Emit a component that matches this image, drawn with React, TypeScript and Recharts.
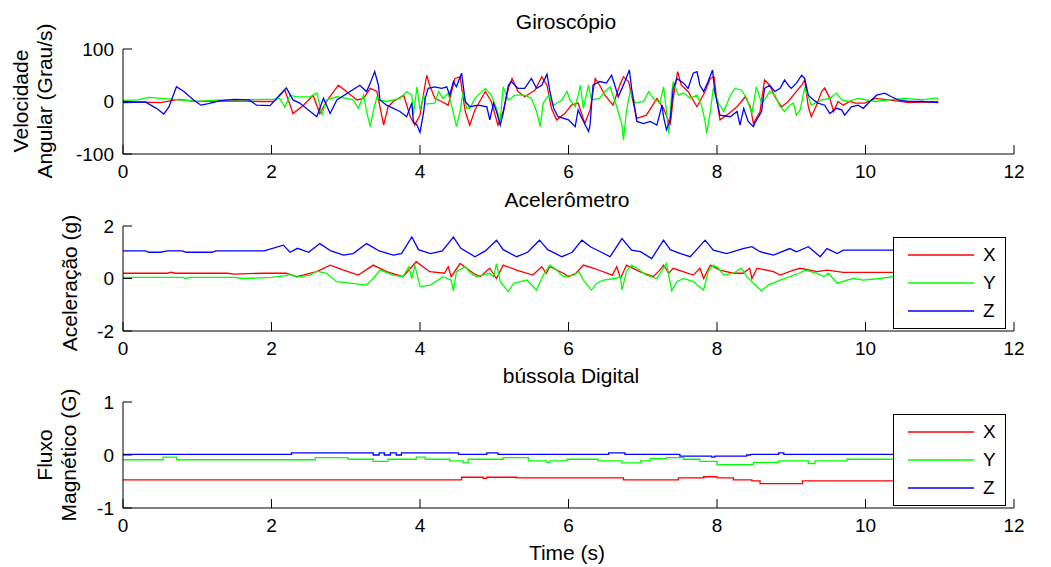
import React from "react"
import { LineChart, Line, XAxis, YAxis, Legend } from "recharts"

const FONT = "'Liberation Sans', Arial, sans-serif"

const timeTicks = [0, 2, 4, 6, 8, 10, 12]
const gyroTicks = [-100, 0, 100]
const accelTicks = [-2, 0, 2]
const magTicks = [-1, 0, 1]

// [tempo (s), valor]
const gyroX = [
  [0, 0], [0.5, -2], [0.75, 4], [1.0, 0], [1.5, 1], [1.85, 0], [2.03, 0], [2.18, 22], [2.29, -23], [2.43, -7],
  [2.56, 12], [2.65, -23], [2.74, 0], [2.9, 31], [3.01, 19], [3.15, 3], [3.24, 6], [3.33, 25], [3.42, 19], [3.51, -45],
  [3.57, -10], [3.64, 0], [3.78, 12], [3.87, -29], [3.93, -45], [4.0, -26], [4.09, 50], [4.13, 31], [4.2, 6], [4.29, 0],
  [4.38, -7], [4.47, 44], [4.54, 47], [4.61, -19], [4.67, -45], [4.74, -16], [4.88, 19], [4.96, 0], [5.05, -45], [5.12, -19],
  [5.19, 25], [5.24, 44], [5.32, 19], [5.41, 9], [5.55, 22], [5.64, 47], [5.71, 31], [5.77, -13], [5.84, -35], [5.95, -23],
  [6.04, -7], [6.13, -3], [6.22, -42], [6.29, -16], [6.36, 44], [6.42, 31], [6.49, 12], [6.6, -7], [6.69, 31], [6.74, 47],
  [6.81, 38], [6.85, 12], [6.92, -32], [7.05, -26], [7.19, 6], [7.28, -13], [7.37, -45], [7.41, 6], [7.47, 57], [7.52, 31],
  [7.61, 19], [7.73, -10], [7.84, 19], [7.91, 44], [7.96, 47], [8.0, 0], [8.04, -35], [8.13, -26], [8.27, -10], [8.38, 9],
  [8.45, -10], [8.49, -42], [8.58, -19], [8.64, 41], [8.71, 31], [8.78, 9], [8.87, -10], [8.96, 0], [9.05, 16], [9.14, 31],
  [9.18, 41], [9.23, -10], [9.27, -29], [9.34, -7], [9.41, 19], [9.45, 26], [9.52, 6], [9.57, -19], [9.63, 0], [9.7, -7],
  [9.79, 0], [9.86, -3], [9.99, -3], [10.13, 6], [10.31, 3], [10.58, -2], [10.98, 0],
]
const gyroY = [
  [0, 2], [0.2, 3], [0.35, 8], [0.6, 5], [1.0, 0], [1.3, 3], [1.6, 3], [1.85, 4], [2.03, 4], [2.11, 6],
  [2.18, -10], [2.25, 12], [2.34, 9], [2.52, 9], [2.61, 16], [2.65, -7], [2.68, -26], [2.74, 3], [2.88, 9], [3.01, 6],
  [3.1, 3], [3.17, -13], [3.24, 12], [3.28, -19], [3.33, -48], [3.37, -19], [3.42, 9], [3.46, 3], [3.55, 0], [3.73, 6],
  [3.82, 19], [3.89, 12], [3.91, -26], [3.96, 28], [4.0, -16], [4.05, 12], [4.07, -5], [4.2, -3], [4.25, 19], [4.31, 6],
  [4.38, 16], [4.43, -10], [4.49, -48], [4.54, -19], [4.58, 19], [4.63, -13], [4.67, -13], [4.74, 6], [4.88, 25], [4.96, 12],
  [5.03, -13], [5.08, -38], [5.12, 28], [5.19, 3], [5.28, 12], [5.41, 12], [5.5, 6], [5.57, -19], [5.62, -48], [5.66, -3],
  [5.73, 12], [5.8, -7], [5.91, 3], [5.98, 19], [6.02, 3], [6.09, -10], [6.13, 12], [6.16, 31], [6.2, -13], [6.27, 31],
  [6.31, 3], [6.42, 6], [6.49, 19], [6.56, 28], [6.65, -10], [6.72, -45], [6.74, -73], [6.78, -19], [6.83, 19], [6.9, -3],
  [7.01, 0], [7.08, 19], [7.14, 6], [7.23, -3], [7.28, 28], [7.32, -19], [7.35, -61], [7.39, 16], [7.41, 38], [7.48, 12],
  [7.55, 16], [7.64, 6], [7.73, 12], [7.79, -7], [7.84, -38], [7.86, -61], [7.91, -19], [7.95, 25], [8.02, -3], [8.09, -19],
  [8.18, 12], [8.24, 25], [8.33, 22], [8.4, 6], [8.47, -23], [8.53, 28], [8.6, -3], [8.64, 3], [8.71, 19], [8.78, 12],
  [8.85, -10], [8.91, -19], [8.98, -7], [9.03, -3], [9.07, -26], [9.12, -16], [9.18, 25], [9.23, 9], [9.27, -7], [9.41, 3],
  [9.52, 6], [9.61, 16], [9.68, 3], [9.77, 0], [9.9, 6], [10.13, 0], [10.31, 3], [10.53, 6], [10.76, 3], [10.96, 7], [10.98, 3],
]
const gyroZ = [
  [0, -2], [0.3, -1], [0.45, -13], [0.55, -24], [0.62, -10], [0.72, 28], [0.82, 19], [0.95, 3], [1.05, -7], [1.15, -4],
  [1.3, 1], [1.5, 4], [1.7, 3], [1.8, -7], [1.98, -8], [2.2, 26], [2.29, 3], [2.38, -3], [2.61, -29], [2.7, 6],
  [2.79, -23], [2.88, 3], [3.19, 31], [3.28, 19], [3.33, 35], [3.39, 57], [3.44, 31], [3.46, 3], [3.55, -7], [3.73, -19],
  [3.82, -29], [3.89, -3], [3.91, -38], [3.96, -45], [4.0, -59], [4.05, -19], [4.07, 6], [4.11, 25], [4.2, 28], [4.29, 25],
  [4.36, 28], [4.4, 12], [4.45, 38], [4.49, 28], [4.56, 54], [4.61, 0], [4.67, -10], [4.79, -7], [4.9, -10], [4.94, -35],
  [4.99, -3], [5.03, -19], [5.08, -45], [5.12, -23], [5.19, 31], [5.23, 38], [5.32, 25], [5.41, 25], [5.5, 44], [5.57, 25],
  [5.64, 31], [5.71, 52], [5.75, 19], [5.8, -13], [5.86, -29], [6.0, -35], [6.09, -48], [6.13, -16], [6.18, -32], [6.27, -57],
  [6.29, -45], [6.33, 31], [6.42, 38], [6.51, 35], [6.58, 50], [6.63, 28], [6.67, 9], [6.72, 25], [6.76, 38], [6.82, 60],
  [6.85, 25], [6.92, -38], [7.01, -42], [7.1, -38], [7.19, -45], [7.26, -7], [7.28, -29], [7.32, -54], [7.37, -35], [7.41, 25],
  [7.46, 44], [7.55, 35], [7.61, 25], [7.68, 54], [7.73, 57], [7.77, 31], [7.82, 19], [7.88, 38], [7.94, 60], [7.97, 19],
  [8.04, -26], [8.18, -29], [8.27, -19], [8.31, -45], [8.36, -13], [8.42, -38], [8.49, -48], [8.51, -41], [8.6, -19], [8.64, 25],
  [8.71, 31], [8.78, 19], [8.85, 25], [8.91, 41], [8.96, 31], [9.0, 25], [9.07, 35], [9.14, 50], [9.18, 44], [9.23, 12],
  [9.3, 3], [9.36, -3], [9.45, -7], [9.52, -23], [9.61, -13], [9.68, -16], [9.72, -26], [9.81, -10], [9.9, -7], [9.97, -13],
  [10.06, 0], [10.15, 12], [10.26, 16], [10.35, 9], [10.44, 3], [10.58, 0], [10.76, 0], [10.98, -2],
]

const accelX = [
  [0, 0.2], [0.6, 0.2], [0.65, 0.24], [0.7, 0.2], [1.4, 0.2], [1.5, 0.17], [1.9, 0.2], [2.2, 0.2], [2.34, 0.07], [2.61, 0.26],
  [2.79, 0.51], [2.97, 0.32], [3.17, 0.13], [3.37, 0.51], [3.55, 0.26], [3.77, 0.07], [3.95, 0.64], [4.13, 0.26], [4.33, 0.2], [4.38, 0.45],
  [4.42, 0.07], [4.54, 0.57], [4.72, 0.2], [4.81, 0.07], [4.94, 0.39], [5.03, 0.0], [5.12, 0.51], [5.3, 0.32], [5.52, 0.13], [5.64, 0.45],
  [5.7, 0.2], [5.75, 0.45], [5.93, 0.2], [6.0, 0.07], [6.1, 0.2], [6.2, 0.51], [6.34, 0.39], [6.59, 0.13], [6.65, 0.45], [6.7, 0.0],
  [6.78, 0.51], [6.96, 0.26], [7.14, 0.07], [7.23, 0.32], [7.28, 0.51], [7.35, 0.2], [7.41, 0.39], [7.68, 0.13], [7.77, 0.39], [7.82, 0.0],
  [7.91, 0.51], [8.04, 0.32], [8.22, 0.2], [8.35, 0.2], [8.44, 0.39], [8.47, 0.0], [8.54, 0.39], [8.76, 0.26], [8.85, 0.13], [9.03, 0.32],
  [9.12, 0.39], [9.35, 0.26], [9.48, 0.32], [9.7, 0.23], [11, 0.23],
]
const accelY = [
  [0, 0.04], [0.8, 0.04], [0.85, 0.0], [0.9, 0.04], [1.5, 0.04], [1.6, 0.0], [2.0, 0.04], [2.16, 0.1], [2.25, 0.15], [2.34, 0.05],
  [2.52, 0.13], [2.61, 0.28], [2.74, 0.2], [2.88, -0.12], [3.06, -0.18], [3.28, -0.25], [3.37, 0.0], [3.46, 0.32], [3.64, 0.13], [3.77, 0.07],
  [3.85, 0.45], [3.89, 0.0], [3.93, 0.51], [4.0, -0.31], [4.14, -0.25], [4.31, 0.07], [4.42, -0.06], [4.45, -0.47], [4.49, 0.26], [4.61, 0.45],
  [4.68, 0.2], [4.76, 0.07], [4.94, 0.2], [4.99, 0.07], [5.03, 0.57], [5.08, -0.12], [5.19, -0.5], [5.26, -0.18], [5.44, -0.06], [5.57, -0.44],
  [5.66, 0.13], [5.75, 0.51], [5.84, 0.32], [5.93, 0.07], [6.07, 0.13], [6.14, 0.26], [6.2, -0.06], [6.31, -0.44], [6.38, -0.18], [6.47, -0.06],
  [6.63, 0.0], [6.7, 0.07], [6.72, -0.44], [6.78, 0.26], [6.85, 0.51], [6.92, 0.39], [7.05, 0.13], [7.19, 0.0], [7.32, 0.57], [7.39, -0.47],
  [7.46, -0.12], [7.55, 0.0], [7.68, -0.12], [7.82, -0.44], [7.88, 0.26], [7.95, 0.51], [8.02, 0.39], [8.09, 0.13], [8.22, 0.2], [8.33, 0.39],
  [8.4, 0.07], [8.49, -0.18], [8.6, -0.47], [8.69, -0.25], [8.85, -0.06], [8.98, 0.07], [9.1, 0.2], [9.19, 0.32], [9.35, 0.2], [9.44, 0.07],
  [9.5, 0.2], [9.62, -0.18], [9.75, -0.06], [9.84, 0.0], [9.97, -0.06], [10.19, 0.0], [10.37, 0.07], [11, 0.07],
]
const accelZ = [
  [0, 1.05], [0.3, 1.05], [0.35, 1.0], [0.5, 1.0], [0.6, 1.05], [0.8, 1.05], [0.85, 1.0], [1.2, 1.0], [1.25, 1.05], [1.9, 1.05],
  [2.16, 1.27], [2.25, 1.0], [2.35, 1.15], [2.5, 1.0], [2.65, 1.33], [2.8, 1.05], [2.97, 0.89], [3.1, 0.95], [3.28, 1.33], [3.45, 1.05],
  [3.64, 0.89], [3.75, 0.95], [3.89, 1.58], [3.98, 1.1], [4.14, 0.95], [4.3, 1.05], [4.45, 1.58], [4.55, 1.15], [4.74, 0.83], [4.88, 1.05],
  [5.03, 1.46], [5.12, 1.1], [5.3, 0.83], [5.45, 1.0], [5.61, 1.46], [5.72, 1.1], [5.91, 0.83], [6.05, 1.0], [6.18, 1.46], [6.3, 1.2],
  [6.43, 1.02], [6.56, 0.83], [6.72, 1.52], [6.85, 1.08], [6.97, 1.02], [7.12, 0.76], [7.28, 1.46], [7.37, 1.1], [7.51, 0.95], [7.64, 0.83],
  [7.84, 1.46], [7.95, 1.08], [8.13, 0.95], [8.35, 1.14], [8.47, 1.21], [8.58, 1.02], [8.76, 0.89], [8.98, 1.14], [9.07, 1.02], [9.23, 1.21],
  [9.39, 0.83], [9.48, 1.14], [9.62, 0.95], [9.7, 1.08], [11, 1.08],
]

const magX = [
  [0, -0.47], [4.56, -0.42], [4.85, -0.44], [4.9, -0.42], [5.3, -0.43], [6.74, -0.47], [7.48, -0.43], [7.82, -0.41], [8.0, -0.43],
  [8.22, -0.47], [8.47, -0.49], [8.58, -0.54], [9.15, -0.49], [11, -0.49],
]
const magY = [
  [0, -0.09], [0.54, -0.04], [0.72, -0.09], [2.59, -0.05], [3.03, -0.08], [3.37, -0.12], [3.57, -0.08], [3.95, -0.04], [4.07, -0.08],
  [4.4, -0.11], [4.58, -0.15], [4.65, -0.08], [5.12, -0.05], [5.46, -0.11], [5.71, -0.14], [5.75, -0.11], [5.98, -0.08], [6.4, -0.11],
  [6.72, -0.15], [6.97, -0.11], [7.1, -0.07], [7.32, -0.05], [7.55, -0.08], [7.77, -0.12], [8.0, -0.18], [8.49, -0.14], [8.83, -0.11],
  [9.23, -0.16], [9.32, -0.11], [9.75, -0.08], [11, -0.08],
]
const magZ = [
  [0, 0.01], [2.27, 0.04], [3.37, 0.0], [3.45, 0.04], [3.52, 0.0], [3.6, 0.04], [3.68, 0.0], [3.75, 0.04], [4.52, 0.01], [4.9, 0.04],
  [5.05, 0.01], [6.54, 0.04], [6.76, 0.01], [7.5, -0.02], [7.93, -0.04], [7.97, -0.02], [8.4, 0.0], [8.45, 0.01], [8.83, 0.04],
  [8.9, 0.01], [11, 0.01],
]

const toPoints = (arr: number[][]) => arr.map(([t, v]) => ({ t, v }))

const XTick = (props: any) => {
  const { x, y, payload } = props
  return (
    <g>
      <line x1={x} y1={y} x2={x} y2={y - 9} stroke="#000" strokeWidth={1} />
      <text x={x} y={y + 17} textAnchor="middle" dominantBaseline="central" fontSize={19} fontFamily={FONT} fill="#000">
        {payload.value}
      </text>
    </g>
  )
}

const YTick = (props: any) => {
  const { x, y, payload } = props
  return (
    <g>
      <line x1={x} y1={y} x2={x + 9} y2={y} stroke="#000" strokeWidth={1} />
      <text x={x - 9} y={y} textAnchor="end" dominantBaseline="central" fontSize={19} fontFamily={FONT} fill="#000">
        {payload.value}
      </text>
    </g>
  )
}

const LegendBox = (props: any) => {
  const { payload } = props
  return (
    <div style={{ position: "relative", width: 111, height: 90, border: "1px solid #000", background: "#fff", fontFamily: FONT }}>
      {(payload || []).map((p: any, i: number) => (
        <div key={p.value} style={{ position: "absolute", left: 0, top: 17 + i * 28 - 12, height: 24, width: 111 }}>
          <svg width={111} height={24} style={{ position: "absolute", left: 0, top: 0 }}>
            <line x1={14} y1={12} x2={80} y2={12} stroke={p.color} strokeWidth={1.3} />
          </svg>
          <span style={{ position: "absolute", left: 89, top: 1, fontSize: 19, lineHeight: "22px", color: "#000" }}>{p.value}</span>
        </div>
      ))}
    </div>
  )
}

type Serie = { name: string; color: string; data: number[][] }

function Panel(props: {
  top: number
  height: number
  marginTop: number
  xHeight: number
  domain: number[]
  ticks: number[]
  series: Serie[]
  step?: boolean
  legendTop?: number
}) {
  const { top, height, marginTop, xHeight, domain, ticks, series, step, legendTop } = props
  return (
    <div style={{ position: "absolute", left: 0, top }}>
      <LineChart width={1051} height={height} margin={{ top: marginTop, right: 37, bottom: 0, left: 0 }}>
        <XAxis
          type="number"
          dataKey="t"
          domain={[0, 12]}
          ticks={timeTicks}
          interval={0}
          height={xHeight}
          tickSize={0}
          tickMargin={0}
          tickLine={false}
          axisLine={{ stroke: "#000", strokeWidth: 1 }}
          tick={<XTick />}
          allowDataOverflow
        />
        <YAxis
          type="number"
          dataKey="v"
          domain={domain}
          ticks={ticks}
          interval={0}
          width={123}
          tickSize={0}
          tickMargin={0}
          tickLine={false}
          axisLine={{ stroke: "#000", strokeWidth: 1 }}
          tick={<YTick />}
          allowDataOverflow
        />
        {series.map((s) => (
          <Line
            key={s.name}
            name={s.name}
            data={toPoints(s.data)}
            dataKey="v"
            type={step ? "stepAfter" : "linear"}
            stroke={s.color}
            strokeWidth={1.3}
            dot={false}
            activeDot={false}
            isAnimationActive={false}
          />
        ))}
        {legendTop !== undefined && (
          <Legend
            layout="horizontal"
            verticalAlign="middle"
            align="center"
            content={<LegendBox />}
            wrapperStyle={{ position: "absolute", left: 893, top: legendTop, width: 113, height: 92 }}
          />
        )}
      </LineChart>
    </div>
  )
}

const textStyle: React.CSSProperties = {
  position: "absolute",
  fontFamily: FONT,
  fontSize: 21,
  color: "#000",
  whiteSpace: "nowrap",
  transform: "translate(-50%, -50%)",
  lineHeight: "24px",
  textAlign: "center",
}

const rotStyle: React.CSSProperties = {
  ...textStyle,
  transform: "translate(-50%, -50%) rotate(-90deg)",
}

export default function App() {
  return (
    <div style={{ position: "absolute", left: 0, top: 0, width: 1051, height: 567, background: "#fff", overflow: "hidden" }}>
      <Panel
        top={0}
        height={190}
        marginTop={49}
        xHeight={36}
        domain={[-100, 100]}
        ticks={gyroTicks}
        series={[
          { name: "X", color: "#ff0000", data: gyroX },
          { name: "Y", color: "#00ff00", data: gyroY },
          { name: "Z", color: "#0000ff", data: gyroZ },
        ]}
      />
      <Panel
        top={190}
        height={180}
        marginTop={36}
        xHeight={39}
        domain={[-2, 2]}
        ticks={accelTicks}
        legendTop={47}
        series={[
          { name: "X", color: "#ff0000", data: accelX },
          { name: "Y", color: "#00ff00", data: accelY },
          { name: "Z", color: "#0000ff", data: accelZ },
        ]}
      />
      <Panel
        top={370}
        height={197}
        marginTop={32}
        xHeight={59}
        domain={[-1, 1]}
        ticks={magTicks}
        step
        legendTop={44}
        series={[
          { name: "X", color: "#ff0000", data: magX },
          { name: "Y", color: "#00ff00", data: magY },
          { name: "Z", color: "#0000ff", data: magZ },
        ]}
      />

      <div style={{ ...textStyle, left: 566, top: 22 }}>Giroscópio</div>
      <div style={{ ...textStyle, left: 567, top: 200 }}>Acelerômetro</div>
      <div style={{ ...textStyle, left: 571, top: 376 }}>bússola Digital</div>
      <div style={{ ...textStyle, left: 567, top: 553 }}>Time (s)</div>

      <div style={{ ...rotStyle, left: 33, top: 101 }}>
        Velocidade
        <br />
        Angular (Grau/s)
      </div>
      <div style={{ ...rotStyle, left: 70, top: 283 }}>Aceleração (g)</div>
      <div style={{ ...rotStyle, left: 57, top: 455 }}>
        Fluxo
        <br />
        Magnético (G)
      </div>
    </div>
  )
}
